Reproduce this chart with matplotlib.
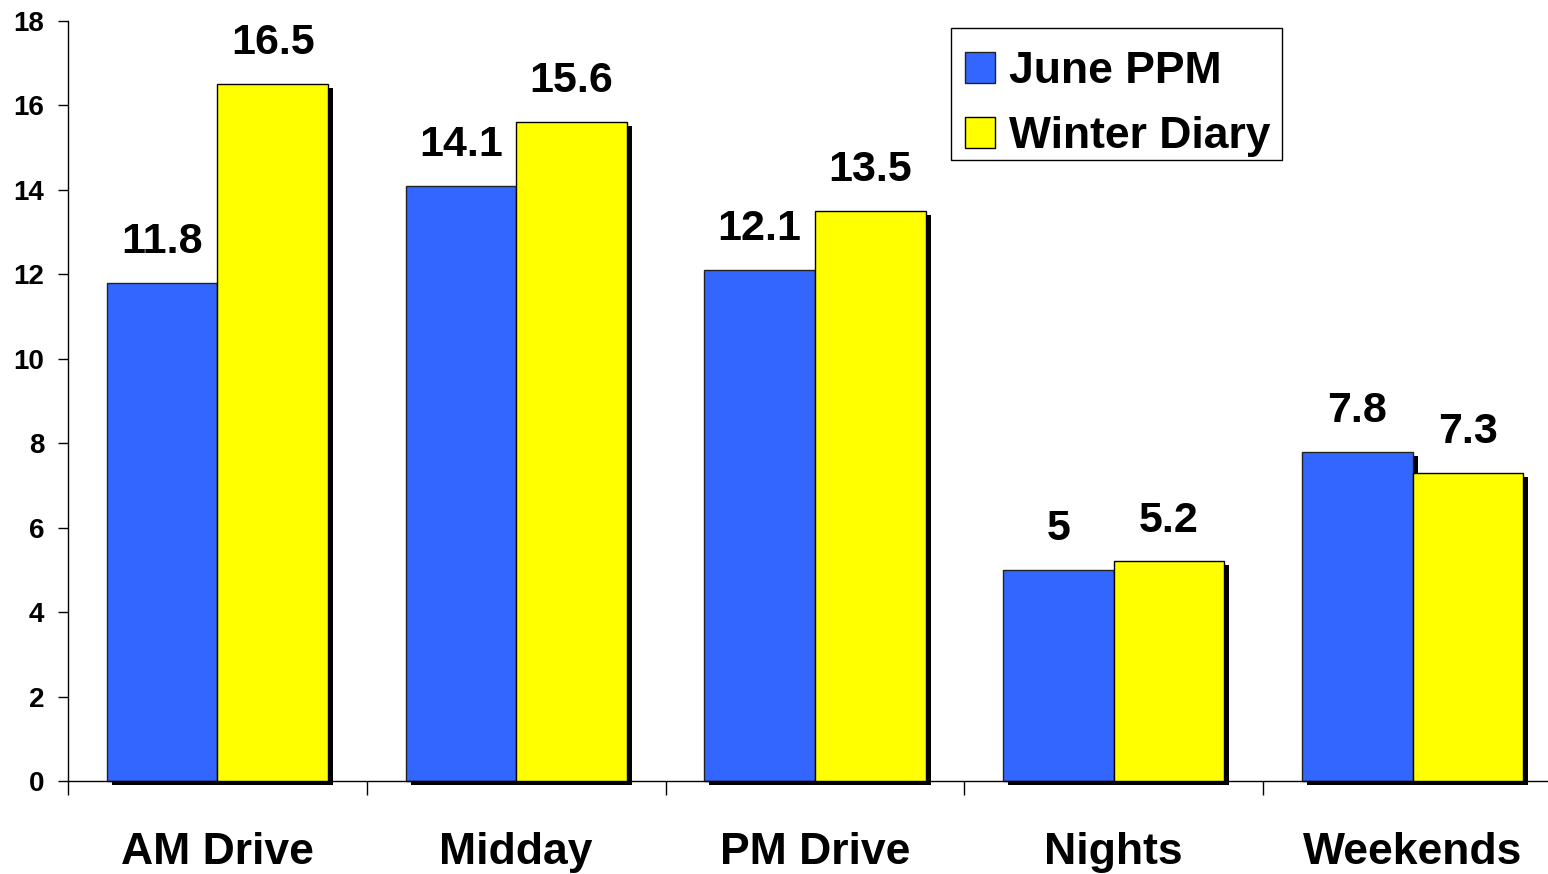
import matplotlib
matplotlib.use("Agg")
import matplotlib.pyplot as plt
import matplotlib.patheffects as pe
from matplotlib.patches import Rectangle
import numpy as np

categories = ["AM Drive", "Midday", "PM Drive", "Nights", "Weekends"]
june_ppm = [11.8, 14.1, 12.1, 5.0, 7.8]
winter_diary = [16.5, 15.6, 13.5, 5.2, 7.3]
series_names = ["June PPM", "Winter Diary"]
y_ticks = [0, 2, 4, 6, 8, 10, 12, 14, 16, 18]

plt.rcParams['font.family'] = ['Liberation Sans', 'DejaVu Sans']
plt.rcParams['font.weight'] = 'bold'

W, H = 1548, 874
fig = plt.figure(figsize=(W / 100, H / 100), dpi=100)
ax = fig.add_axes([68 / W, 1 - 781 / H, (1562 - 68) / W, (781 - 21) / H])

x = np.arange(len(categories)) + 0.5
bw = 0.37
shadow = [pe.SimplePatchShadow(offset=(3.6, -2.9), shadow_rgbFace='black', alpha=1.0), pe.Normal()]

b1 = ax.bar(x - bw / 2, june_ppm, bw, color='#3366FF', edgecolor='#222222', linewidth=1,
            label=series_names[0], zorder=2)
b2 = ax.bar(x + bw / 2, winter_diary, bw, color='#FFFF00', edgecolor='black', linewidth=1,
            label=series_names[1], zorder=3)
for b in list(b1) + list(b2):
    b.set_path_effects(shadow)
    b.set_clip_on(False)

for bars, vals in ((b1, june_ppm), (b2, winter_diary)):
    for r, v in zip(bars, vals):
        ax.annotate(f"{v:g}", (r.get_x() + r.get_width() / 2, v), xytext=(0, 21.5),
                    textcoords='offset points', ha='center', va='baseline',
                    fontsize=31, fontweight='bold')

ax.set_xlim(0, len(categories))
ax.set_ylim(0, 18)
ax.set_yticks(y_ticks)
ax.set_yticklabels([str(t) for t in y_ticks], fontsize=20, fontweight='bold')
ax.tick_params(axis='y', direction='out', length=7, width=1, pad=10)

ax.set_xticks(np.arange(len(categories) + 1))
ax.set_xticklabels([''] * (len(categories) + 1))
ax.tick_params(axis='x', which='major', direction='out', length=10, width=1)
ax.set_xticks(x, minor=True)
ax.set_xticklabels(categories, minor=True, fontsize=32, fontweight='bold')
ax.tick_params(axis='x', which='minor', length=0, pad=37)

for s in ('top', 'right'):
    ax.spines[s].set_visible(False)
ax.spines['left'].set_linewidth(1)
ax.spines['bottom'].set_linewidth(1)

# legend frame
fig.add_artist(Rectangle((951 / W, 1 - 160 / H), (1282 - 951) / W, (160 - 28) / H,
                         transform=fig.transFigure, facecolor='white',
                         edgecolor='black', linewidth=1, zorder=4))
leg = fig.legend(handles=[b1, b2], labels=series_names, loc='upper left',
                 bbox_to_anchor=(965 / W, 1 - 51 / H),
                 prop={'weight': 'bold', 'size': 32},
                 frameon=False,
                 handlelength=0.68, handleheight=0.68, handletextpad=0.32,
                 borderpad=0, labelspacing=0.54, borderaxespad=0)
leg.set_zorder(5)
for h in leg.legend_handles:
    h.set_path_effects([])

fig.savefig("out.png", dpi=100)
